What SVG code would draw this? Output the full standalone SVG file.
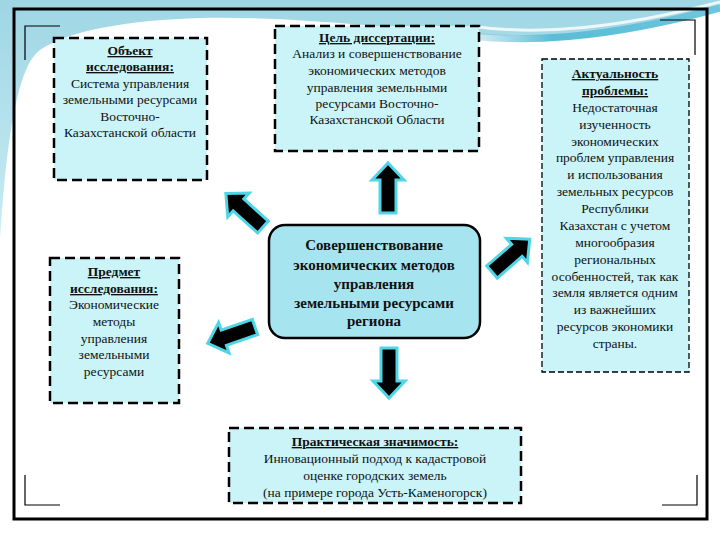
<svg xmlns="http://www.w3.org/2000/svg" width="720" height="540" viewBox="0 0 720 540">
<defs>
<linearGradient id="wave" x1="0" y1="0" x2="0" y2="1">
<stop offset="0" stop-color="#9fd6e4"/>
<stop offset="1" stop-color="#c9ecf3"/>
</linearGradient>
<linearGradient id="swoosh" x1="0" y1="0" x2="1" y2="0">
<stop offset="0" stop-color="#7cc8dc" stop-opacity="0"/>
<stop offset="0.4" stop-color="#5bbcd6"/>
<stop offset="1" stop-color="#6cc6de"/>
</linearGradient>
<path id="arr" d="M0,-8 H33 V-16 L50,0 L33,16 V8 H0 Z"/>
<style>
.box{fill:#caf4f8;stroke:#000;stroke-width:2.5;stroke-dasharray:10 5}
.thin{fill:#caf4f8;stroke:#000;stroke-width:1.3;stroke-dasharray:6 3}
.t{font-size:13.5px;fill:#111;text-anchor:middle}
.h{font-weight:bold;text-decoration:underline}
.c{font-size:15px;font-weight:bold;fill:#111;text-anchor:middle}
.a{fill:#000;stroke:#4fd6e6;stroke-width:3;stroke-linejoin:miter}
</style>
</defs>
<rect width="720" height="540" fill="#fff"/>
<path fill="url(#wave)" d="M0,0 H720 V10 C640,30 560,40 470,34 C380,28 300,16 200,18 C130,20 70,30 40,50 C20,65 8,120 0,240 Z"/>
<path fill="none" stroke="url(#swoosh)" stroke-width="7" d="M440,32 C520,46 610,38 720,8"/>
<path fill="none" stroke="#ffffff" stroke-width="3" opacity="0.8" d="M470,26 C540,36 620,28 720,2"/>
<rect x="14" y="9" width="693" height="510" fill="none" stroke="#000" stroke-width="3"/>
<g fill="none" stroke="#000" stroke-width="1.2">
<path d="M60,26 H25 V60"/>
<path d="M660,20 H695 V55"/>
<path d="M25,475 V505 H60"/>
<path d="M697,475 V505 H662"/>
</g>
<g id="connectors">
<use href="#arr" class="a" transform="translate(388,213) rotate(-90)"/>
<use href="#arr" class="a" transform="translate(389,348) rotate(90)"/>
<use href="#arr" class="a" transform="translate(263,227) rotate(-138)"/>
<use href="#arr" class="a" transform="translate(255,327) rotate(161)"/>
<use href="#arr" class="a" transform="translate(492,272) rotate(-41)"/>
</g>
<g font-family="'Liberation Serif', 'DejaVu Serif', 'Times New Roman', serif">
<g id="object">
<rect class="box" x="54" y="38" width="153" height="142"/>
<text class="t"><tspan class="h" x="130" y="55">Объект</tspan><tspan class="h" x="130" y="71">исследования:</tspan><tspan x="130" y="88">Система управления</tspan><tspan x="130" y="104">земельными ресурсами</tspan><tspan x="130" y="121">Восточно-</tspan><tspan x="130" y="137">Казахстанской области</tspan></text>
</g>
<g id="goal">
<rect class="box" x="275" y="26" width="204" height="125"/>
<text class="t"><tspan class="h" x="377" y="42">Цель диссертации:</tspan><tspan x="377" y="58">Анализ и совершенствование</tspan><tspan x="377" y="75">экономических методов</tspan><tspan x="377" y="92">управления земельными</tspan><tspan x="377" y="108">ресурсами Восточно-</tspan><tspan x="377" y="124">Казахстанской Области</tspan></text>
</g>
<g id="relevance">
<rect class="thin" x="542" y="59" width="147" height="313"/>
<text class="t"><tspan class="h" x="615" y="78">Актуальность</tspan><tspan class="h" x="615" y="95">проблемы:</tspan><tspan x="615" y="112">Недостаточная</tspan><tspan x="615" y="129">изученность</tspan><tspan x="615" y="146">экономических</tspan><tspan x="615" y="162">проблем управления</tspan><tspan x="615" y="179">и использования</tspan><tspan x="615" y="196">земельных ресурсов</tspan><tspan x="615" y="213">Республики</tspan><tspan x="615" y="230">Казахстан с учетом</tspan><tspan x="615" y="247">многообразия</tspan><tspan x="615" y="264">региональных</tspan><tspan x="615" y="281">особенностей, так как</tspan><tspan x="615" y="297">земля является одним</tspan><tspan x="615" y="314">из важнейших</tspan><tspan x="615" y="331">ресурсов экономики</tspan><tspan x="615" y="348">страны.</tspan></text>
</g>
<g id="subject">
<rect class="box" x="50" y="258" width="129" height="145"/>
<text class="t"><tspan class="h" x="114" y="276">Предмет</tspan><tspan class="h" x="114" y="293">исследования:</tspan><tspan x="114" y="309">Экономические</tspan><tspan x="114" y="326">методы</tspan><tspan x="114" y="343">управления</tspan><tspan x="114" y="359">земельными</tspan><tspan x="114" y="376">ресурсами</tspan></text>
</g>
<g id="center">
<rect x="269" y="225" width="211" height="113" rx="16" fill="#a6e4ef" stroke="#000" stroke-width="2.5"/>
<text class="c"><tspan x="374" y="250">Совершенствование</tspan><tspan x="374" y="270">экономических методов</tspan><tspan x="374" y="289">управления</tspan><tspan x="374" y="308">земельными ресурсами</tspan><tspan x="374" y="326">региона</tspan></text>
</g>
<g id="practical">
<rect class="box" x="229" y="428" width="292" height="75"/>
<text class="t"><tspan class="h" x="375" y="446">Практическая значимость:</tspan><tspan x="375" y="463">Инновационный подход к кадастровой</tspan><tspan x="375" y="480">оценке городских земель</tspan><tspan x="375" y="497">(на примере города Усть-Каменогорск)</tspan></text>
</g>
</g>
</svg>
